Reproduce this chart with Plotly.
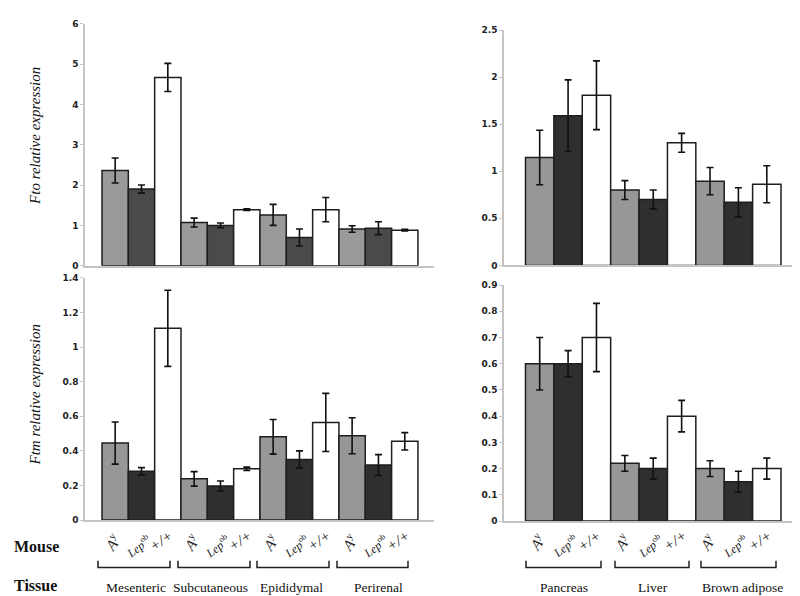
import plotly.graph_objects as go

# ---------------- data ----------------
tissues_left = ["Mesenteric", "Subcutaneous", "Epididymal", "Perirenal"]
tissues_right = ["Pancreas", "Liver", "Brown adipose"]
genotypes = ["<i>A</i><sup>y</sup>", "<i>Lep</i><sup>ob</sup>", "<i>+/+</i>"]

fto_left = [2.36, 1.90, 4.67, 1.07, 1.00, 1.39, 1.26, 0.70, 1.39, 0.91, 0.93, 0.88]
fto_left_err = [0.31, 0.10, 0.35, 0.11, 0.06, 0.02, 0.26, 0.21, 0.30, 0.08, 0.16, 0.02]
ftm_left = [0.445, 0.282, 1.108, 0.238, 0.197, 0.296, 0.481, 0.350, 0.564, 0.487, 0.318, 0.455]
ftm_left_err = [0.122, 0.021, 0.220, 0.042, 0.029, 0.010, 0.100, 0.050, 0.168, 0.104, 0.060, 0.050]

fto_right = [1.146, 1.59, 1.807, 0.80, 0.70, 1.302, 0.895, 0.67, 0.862]
fto_right_err = [0.29, 0.38, 0.365, 0.10, 0.10, 0.10, 0.145, 0.155, 0.196]
ftm_right = [0.60, 0.60, 0.70, 0.22, 0.20, 0.40, 0.20, 0.15, 0.20]
ftm_right_err = [0.10, 0.05, 0.13, 0.03, 0.04, 0.06, 0.03, 0.04, 0.04]

W, H = 800, 596
def px(x):
    return x / W
def py(y):
    return 1 - y / H

colors_top_left = ["#9a9a9a", "#4a4a4a", "#ffffff"]
colors_other = ["#979797", "#2f2f2f", "#ffffff"]

fig = go.Figure()

panels = [
    (fto_left, fto_left_err, "x", "y", colors_top_left),
    (fto_right, fto_right_err, "x2", "y2", colors_other),
    (ftm_left, ftm_left_err, "x3", "y3", colors_other),
    (ftm_right, ftm_right_err, "x4", "y4", colors_other),
]
for vals, errs, xa, ya, cols in panels:
    n = len(vals)
    fig.add_trace(go.Bar(
        x=list(range(n)), y=vals, width=1.0,
        marker=dict(color=[cols[i % 3] for i in range(n)],
                    line=dict(color="#1e1e1e", width=1.5)),
        error_y=dict(type="data", array=errs, visible=True,
                     color="#111111", thickness=1.6, width=3.5),
        xaxis=xa, yaxis=ya, showlegend=False, hoverinfo="skip",
    ))

axis_col = "#c4c4c4"
tickfont = dict(family="DejaVu Sans", size=9, color="#222222", weight="bold")

def xax(domain, rng):
    return dict(domain=domain, range=rng, showline=True, linecolor=axis_col,
                linewidth=1.5, showticklabels=False, ticks="", showgrid=False,
                zeroline=False, fixedrange=True)

def yax(domain, rng, dtick, anchor):
    return dict(domain=domain, range=rng, dtick=dtick, showline=True,
                linecolor=axis_col, linewidth=1.5, ticks="outside", ticklen=3,
                tickcolor=axis_col, tickfont=tickfont, showgrid=False,
                zeroline=False, anchor=anchor, fixedrange=True)

left_dom = [px(77), px(426)]
right_dom = [px(496), px(795)]
left_rng = [-1.146, 12.11]
right_rng = [-1.257, 9.275]

fig.update_layout(
    width=W, height=H, margin=dict(l=0, r=0, t=0, b=0),
    paper_bgcolor="white", plot_bgcolor="white",
    barmode="overlay",
    xaxis=xax(left_dom, left_rng) | dict(anchor="y"),
    yaxis=yax([py(257), py(11)], [0, 6], 1, "x"),
    xaxis2=xax(right_dom, right_rng) | dict(anchor="y2"),
    yaxis2=yax([py(256.7), py(17.3)], [0, 2.5], 0.5, "x2"),
    xaxis3=xax(left_dom, left_rng) | dict(anchor="y3"),
    yaxis3=yax([py(515.7), py(269.3)], [0, 1.4], 0.2, "x3"),
    xaxis4=xax(right_dom, right_rng) | dict(anchor="y4"),
    yaxis4=yax([py(516.7), py(276.7)], [0, 0.9], 0.1, "x4"),
)

serif = "Liberation Serif"
ann = []
def pa(text, x, y, size, angle=0, color="#111"):
    return dict(text=text, x=px(x), y=py(y), xref="paper", yref="paper",
                xanchor="center", yanchor="middle", textangle=angle,
                showarrow=False, font=dict(family=serif, size=size, color=color))

ann.append(pa("<i>Fto relative expression</i>", 27, 125, 15, -90))
ann.append(pa("<i>Ftm relative expression</i>", 27, 388, 15, -90))
ann.append(pa("<b>Mouse</b>", 29, 543, 16))
ann.append(pa("<b>Tissue</b>", 27, 582, 16))

# genotype labels under each bar
geno_shift = [(-3, 538, -55, 15), (-3, 543, -38, 12), (-7, 537, -35, 15)]
for xa, n in (("x3", 12), ("x4", 9)):
    for i in range(n):
        g = i % 3
        dx, yy, ang, fs = geno_shift[g]
        ann.append(dict(text=genotypes[g], x=i, xref=xa, y=py(yy), yref="paper",
                        xanchor="center", yanchor="middle",
                        xshift=dx, textangle=ang, showarrow=False,
                        font=dict(family=serif, size=fs, color="#222")))

# tissue labels and brackets
left_brackets = [(90, 162), (170, 242), (249, 321), (329, 400)]
left_label_x = [128, 202, 283, 370]
right_brackets = [(518, 593), (607, 681), (693, 768)]
right_label_x = [556, 645, 734]
shapes = []
for names, brs, lx in ((tissues_left, left_brackets, left_label_x),
                       (tissues_right, right_brackets, right_label_x)):
    for name, (a, b), cx in zip(names, brs, lx):
        ann.append(pa(name, cx, 584, 13.5))
        path = f"M {px(a)} {py(557)} L {px(a)} {py(564)} L {px(b)} {py(564)} L {px(b)} {py(557)}"
        shapes.append(dict(type="path", path=path, xref="paper", yref="paper",
                           line=dict(color="#222", width=1.5)))

fig.update_layout(annotations=ann, shapes=shapes)
fig.write_html("out.html")
